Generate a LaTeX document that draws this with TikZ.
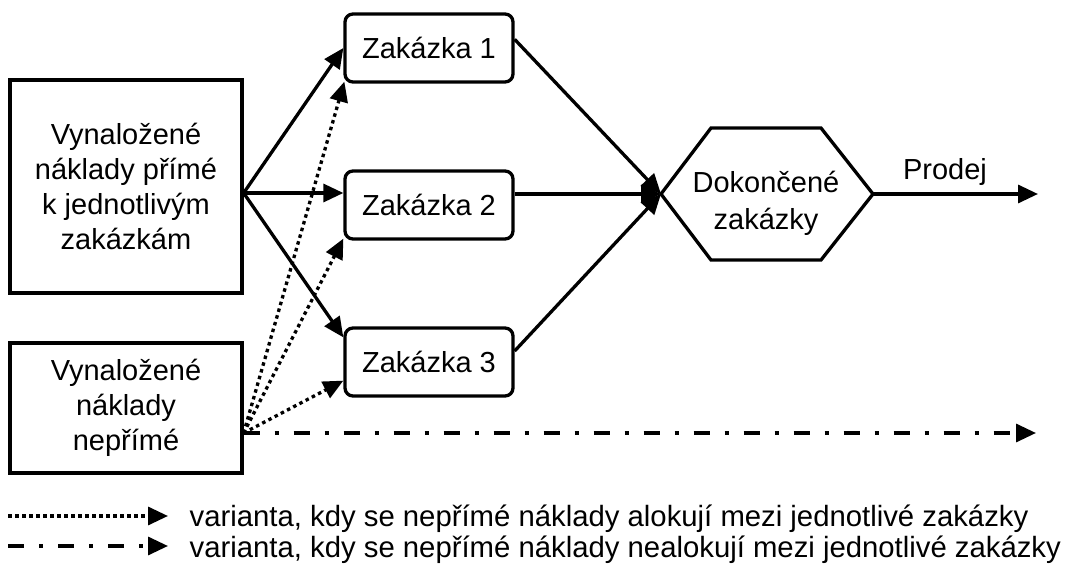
\documentclass[tikz,border=0pt]{standalone}
\usepackage{fontspec}
\setmainfont{Liberation Sans}
\usetikzlibrary{arrows.meta,calc}
\begin{document}
\begin{tikzpicture}[x=1pt,y=-1pt,line width=3.3pt,line join=miter,
  every node/.style={font=\fontsize{29}{35}\selectfont},
  srcbox/.style={draw,align=center,inner sep=0pt},
  jobbox/.style={draw,rounded corners=8pt,minimum width=168pt,minimum height=68pt,inner sep=0pt},
  tip/.style={-{Triangle[length=20pt,width=18pt]}},
  alloc/.style={tip,dash pattern=on 3.5pt off 3.5pt},
  noalloc/.style={tip,dash pattern=on 16pt off 15pt on 4pt off 15pt},
  lbl/.style={font=\fontsize{29.3}{34}\selectfont,anchor=west,inner sep=0pt}
]
\useasboundingbox (0,0) rectangle (1066,572);

% source boxes
\node[srcbox,minimum width=232pt,minimum height=213pt] (A) at (126,186.5)
  {Vynaložené\\náklady přímé\\k jednotlivým\\zakázkám};
\node[srcbox,minimum width=232pt,minimum height=130pt] (B) at (126,408)
  {Vynaložené\\náklady\\nepřímé};
\coordinate (As) at ($(A.east)+(0,6.5)$);
\coordinate (Bs) at ($(B.east)+(0,25)$);

% jobs
\node[jobbox] (Z1) at (429,48) {Zakázka 1};
\node[jobbox] (Z2) at (429,205) {Zakázka 2};
\node[jobbox] (Z3) at (429,362) {Zakázka 3};

% hexagon
\coordinate (Hl) at (661,194);
\coordinate (Hr) at (873,194);
\draw (Hl) -- (711,128) -- (821,128) -- (Hr) -- (821,260) -- (711,260) -- cycle;
\node[align=center,font=\fontsize{29}{37}\selectfont] (H) at (766,203) {Dokončené\\zakázky};

% direct costs
\draw[tip] (As) -- (Z1.west);
\draw[tip] (As) -- (As -| Z2.west);
\draw[tip] (As) -- ($(Z3.north west)+(0,11)$);

% allocated indirect costs
\draw[alloc] (Bs) -- ($(Z1.south west)+(1,-2)$);
\draw[alloc] (Bs) -- ($(Z2.south west)+(0,-2)$);
\draw[alloc] (Bs) -- ($(Z3.south west)+(0,-17)$);

% not allocated
\coordinate (E2) at (1036,434);
\draw[noalloc] (Bs) -- (Bs -| E2);

% to finished
\draw[tip] ($(Z1.north east)+(0,27)$) -- (Hl);
\draw[tip] (Z2.east |- Hl) -- (Hl);
\draw[tip] ($(Z3.east)+(0,-11)$) -- (Hl);

% sale
\coordinate (E1) at (1038,194);
\draw[tip] (Hr) -- (E1);
\node (P) at (945,172) {Prodej};

% legend
\coordinate (L1a) at (8,516);
\coordinate (L1b) at (168,516);
\coordinate (L2a) at (8,546);
\coordinate (L2b) at (168,546);
\draw[alloc] (L1a) -- (L1b);
\draw[noalloc] (L2a) -- (L2b);
\node[lbl] (T1) at (188,519) {varianta, kdy se nepřímé náklady alokují mezi jednotlivé zakázky};
\node[lbl] (T2) at (188,550) {varianta, kdy se nepřímé náklady nealokují mezi jednotlivé zakázky};
\end{tikzpicture}
\end{document}
